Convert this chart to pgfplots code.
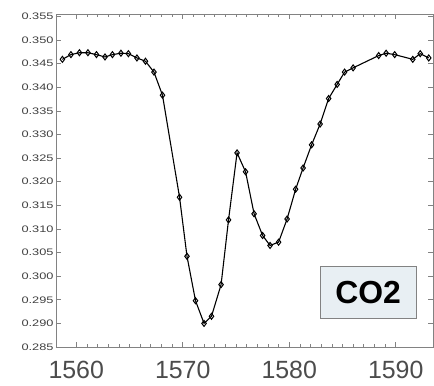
\documentclass[border=0pt]{standalone}
\usepackage{fontspec}
\setmainfont{Liberation Sans}
\newfontfamily\widefont[FakeStretch=1.35]{Liberation Sans}
\usepackage{pgfplots}
\pgfplotsset{compat=1.18}
\definecolor{boxfill}{RGB}{232,239,243}
\definecolor{axgray}{RGB}{130,130,130}
\begin{document}
\begin{tikzpicture}
\begin{axis}[
  scale only axis, width=377bp, height=333bp,
  xmin=1558.1, xmax=1593.5, ymin=0.285, ymax=0.3555,
  xtick={1560,1570,1580,1590},
  minor x tick num=9,
  ytick={0.285,0.290,0.295,0.300,0.305,0.310,0.315,0.320,0.325,0.330,0.335,0.340,0.345,0.350,0.355},
  /pgf/number format/assume math mode=true,
  yticklabel style={font=\widefont\fontsize{9.5}{10}\selectfont, text=black!75, xshift=1bp,
     /pgf/number format/fixed, /pgf/number format/fixed zerofill, /pgf/number format/precision=3},
  xticklabel style={font=\fontsize{25}{25}\selectfont, text=black!70, yshift=-11bp,
     /pgf/number format/set thousands separator={}},
  tick align=inside,
  major tick length=5bp, minor tick length=3bp,
  axis line style={axgray, line width=0.8bp},
  tick style={axgray, line width=0.6bp},
  clip=false,
]
\addplot[black, line width=1.1bp, mark=diamond, mark size=3bp, mark options={fill=white, line width=1bp}] coordinates {
(1558.7,0.3459) (1559.5,0.3469) (1560.3,0.3473) (1561.1,0.3473) (1561.9,0.3469)
(1562.7,0.3464) (1563.4,0.3469) (1564.2,0.3472) (1564.9,0.3471) (1565.7,0.3462)
(1566.5,0.3455) (1567.3,0.3432) (1568.1,0.3383) (1569.7,0.3167) (1570.4,0.3042)
(1571.2,0.2948) (1572.0,0.2900) (1572.7,0.2915) (1573.6,0.2982) (1574.3,0.3119)
(1575.1,0.3261) (1575.9,0.3221) (1576.7,0.3132) (1577.5,0.3086) (1578.2,0.3065)
(1579.0,0.3072) (1579.8,0.3121) (1580.6,0.3184) (1581.3,0.3229) (1582.1,0.3278)
(1582.9,0.3322) (1583.7,0.3376) (1584.5,0.3406) (1585.2,0.3432) (1586.0,0.3441)
(1588.4,0.3467) (1589.1,0.3472) (1589.9,0.3469) (1591.6,0.3459) (1592.3,0.3471)
(1593.1,0.3462)
};
\node[draw=axgray, fill=boxfill, minimum width=96bp, minimum height=52bp, inner sep=0pt,
  font=\bfseries\fontsize{32}{32}\selectfont] at (axis cs:1587.4,0.2966) {CO2};
\end{axis}
\useasboundingbox (current axis.south west) ++(-56bp,-39bp) rectangle ([xshift=1bp,yshift=14bp]current axis.north east);
\end{tikzpicture}
\end{document}
